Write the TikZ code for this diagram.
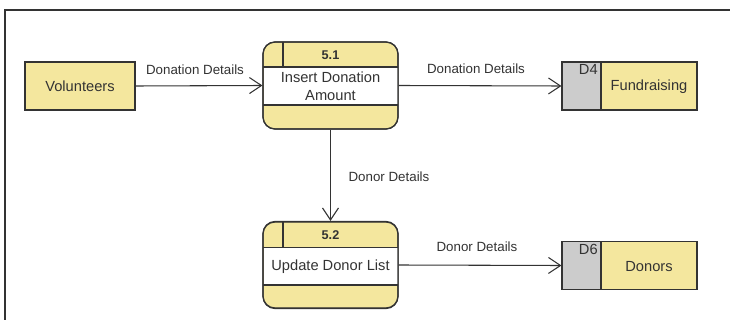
\documentclass[tikz,border=0pt]{standalone}
\usepackage{fontspec}
\setmainfont{Liberation Sans}
\usetikzlibrary{arrows.meta}
\definecolor{boxfill}{HTML}{F4E79E}
\definecolor{storegray}{HTML}{CCCCCC}
\definecolor{ink}{HTML}{333333}
\begin{document}
\begin{tikzpicture}[x=0.75pt,y=-0.75pt,
  every node/.style={text=ink, inner sep=0pt},
  entity/.style={draw=ink, fill=boxfill, line width=0.9pt, minimum width=82.5pt, minimum height=36pt, font=\fontsize{11}{13}\selectfont},
  procbox/.style={draw=ink, fill=boxfill, line width=0.9pt, rounded corners=9pt, minimum width=101.25pt, minimum height=65.25pt},
  storebox/.style={draw=ink, fill=boxfill, line width=0.9pt, minimum width=101.25pt, minimum height=36pt},
  flow/.style={draw=ink, line width=0.8pt, -{Straight Barb[length=9pt, width=12pt, line width=0.8pt]}},
  flowlabel/.style={font=\fontsize{10}{12}\selectfont, fill=white, inner sep=1pt},
  proctext/.style={font=\fontsize{11}{13.5}\selectfont, align=center},
  procnum/.style={font=\bfseries\fontsize{9.5}{11}\selectfont},
  storeid/.style={font=\fontsize{11}{13}\selectfont},
  storetext/.style={font=\fontsize{11}{13}\selectfont}]
\useasboundingbox (0,0) rectangle (730,320);
\fill[white] (0,0) rectangle (730,320);

% outer frame
\draw[ink, line width=0.8pt] (730,10) -- (5,10) -- (5,320);

% external entity
\node[entity] (vol) at (80,86) {Volunteers};

% process 5.1
\node[procbox] (p1) at (330.5,85.5) {};
\fill[white] (263.5,67) rectangle (397.5,105);
\draw[ink, line width=0.9pt] (263,67) -- (398,67) (263,105) -- (398,105) (283,42) -- (283,67);
\draw[ink, line width=0.9pt, rounded corners=9pt] (263,42) rectangle (398,129);
\node[procnum] (p1num) at (330.5,55) {5.1};
\node[proctext] (p1txt) at (330.5,86.5) {Insert Donation\\Amount};

% process 5.2
\node[procbox] (p2) at (330.5,265) {};
\fill[white] (263.5,247.5) rectangle (397.5,285);
\draw[ink, line width=0.9pt] (263,247.5) -- (398,247.5) (263,285) -- (398,285) (283,222) -- (283,247.5);
\draw[ink, line width=0.9pt, rounded corners=9pt] (263,222) rectangle (398,308);
\node[procnum] (p2num) at (330.5,235) {5.2};
\node[proctext] (p2txt) at (330.5,267) {Update Donor List};

% data store D4
\node[storebox] (d4) at (629.5,86) {};
\fill[storegray] (562,62) rectangle (601,110);
\draw[ink, line width=0.9pt] (562,62) rectangle (697,110) (601,62) -- (601,110);
\node[storeid, anchor=north east] (d4id) at (598,64) {D4};
\node[storetext] (d4txt) at (649,87) {Fundraising};

% data store D6
\node[storebox] (d6) at (629.5,265.5) {};
\fill[storegray] (562,241.5) rectangle (601,289.5);
\draw[ink, line width=0.9pt] (562,241.5) rectangle (697,289.5) (601,241.5) -- (601,289.5);
\node[storeid, anchor=north east] (d6id) at (598,243.5) {D6};
\node[storetext] (d6txt) at (649,266.5) {Donors};

% data flows
\draw[flow] (vol.east) -- (p1.west);
\draw[flow] (p1.east) -- (d4.west);
\draw[flow] (p1.south) -- (p2.north);
\draw[flow] (p2.east) -- (d6.west);

\node[flowlabel] (l1) at (195,70) {Donation Details};
\node[flowlabel] (l2) at (476,69) {Donation Details};
\node[flowlabel] (l3) at (389,177) {Donor Details};
\node[flowlabel] (l4) at (477,247) {Donor Details};
\end{tikzpicture}
\end{document}
